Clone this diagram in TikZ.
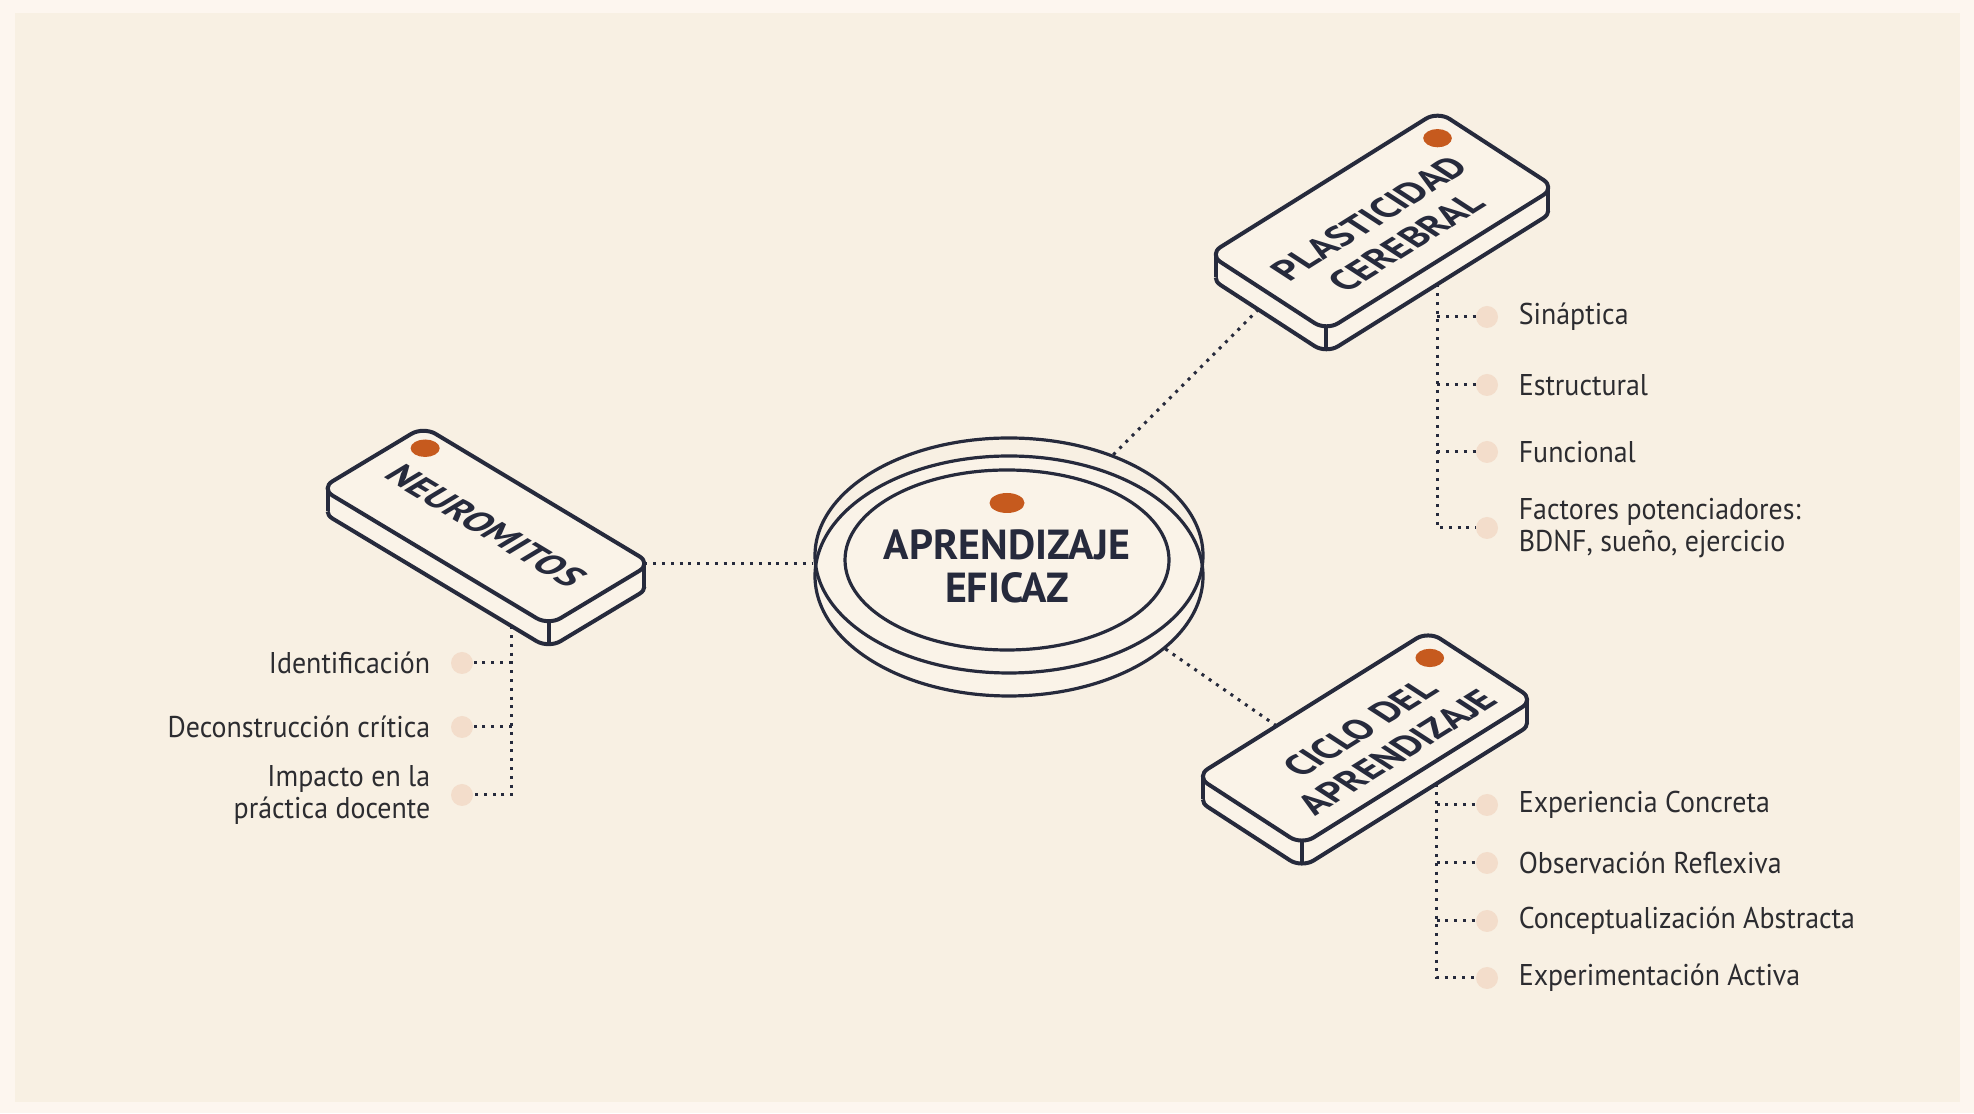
\documentclass[tikz,border=0pt]{standalone}
\usepackage{fontspec}
\setmainfont{PT Sans}[FakeStretch=0.93]
\newfontfamily\headfont{PT Sans}
\usetikzlibrary{positioning,shapes.geometric}

\definecolor{outerbg}{HTML}{FDF6EF}
\definecolor{innerbg}{HTML}{F8F0E3}
\definecolor{slabfill}{HTML}{FAF3E8}
\definecolor{ink}{HTML}{262A3C}
\definecolor{accent}{HTML}{C65A1E}
\definecolor{bulletc}{HTML}{F3DDCB}
\definecolor{textc}{HTML}{2C2C30}

\def\slabr{14}
\newcommand{\facepath}[2]{({-#1+\slabr},{-#2}) -- ({#1-\slabr},{-#2}) arc[start angle=-90,end angle=0,radius=\slabr]
  -- ({#1},{#2-\slabr}) arc[start angle=0,end angle=90,radius=\slabr]
  -- ({-#1+\slabr},{#2}) arc[start angle=90,end angle=180,radius=\slabr]
  -- ({-#1},{-#2+\slabr}) arc[start angle=180,end angle=270,radius=\slabr] -- cycle}

\tikzset{
  isoA/.style={cm={0.857,-0.515,0.857,0.515,(0,0)}},
  isoB/.style={cm={0.848,0.530,-0.839,0.545,(0,0)}},
  slabline/.style={draw=ink, line width=2pt, line join=round},
  disc/.style={ellipse, draw=ink, line width=1.6pt, inner sep=0pt},
  dotlink/.style={draw=ink, line width=1.5pt, dash pattern=on 1.5pt off 2.9pt},
  slabtext/.style={font=\headfont\bfseries\fontsize{18.5}{22}\selectfont, text=ink, align=center, inner sep=0pt},
  titletext/.style={slabtext, font=\headfont\bfseries\fontsize{21}{21.5}\selectfont},
  itemdot/.style={circle, fill=bulletc, minimum size=11pt, inner sep=0pt},
  itemtext/.style={font=\fontsize{15}{15.8}\selectfont, text=textc, align=left, inner sep=0pt}
}

\begin{document}
\begin{tikzpicture}[x=0.5pt,y=0.5pt]
\useasboundingbox (0,0) rectangle (1974,1113);
\fill[outerbg] (0,0) rectangle (1974,1113);
\fill[innerbg] (15,11) rectangle (1960,1100);

% centre
\node[disc, fill=slabfill, minimum width=194pt, minimum height=120pt] (coreb) at (1009,537) {};
\node[disc, minimum width=194pt, minimum height=117.5pt] (core) at (1009,557.5) {};
\node[disc, minimum width=162pt, minimum height=90pt] (corein) at (1007,553) {};
\fill[accent] (1007,610) ellipse[x radius=17.5, y radius=10];
\node[titletext] (coretext) at (1007,547) {APRENDIZAJE\\EFICAZ};

% NEUROMITOS
\foreach \s in {0,...,23}{
  \begin{scope}[shift={(486,587-\s)},isoA]
    \fill[slabfill] \facepath{133}{60};
  \end{scope}}
\begin{scope}[shift={(486,564)},isoA]
  \draw[slabline] ({-133+0.293*\slabr},{-60+0.293*\slabr}) arc[start angle=225,end angle=270,radius=\slabr]
    -- ({133-\slabr},-60) arc[start angle=270,end angle=360,radius=\slabr]
    -- (133,{60-\slabr}) arc[start angle=0,end angle=45,radius=\slabr];
  \coordinate (neu-out) at (90,-60);
\end{scope}
\begin{scope}[shift={(486,587)},isoA]
  \draw[slabline] \facepath{133}{60};
  \coordinate (neu-l) at ({-133+0.293*\slabr},{-60+0.293*\slabr});
  \coordinate (neu-f) at ({133-0.293*\slabr},{-60+0.293*\slabr});
  \coordinate (neu-r) at ({133-0.293*\slabr},{60-0.293*\slabr});
  \fill[accent] (-111,40) circle[radius=12];
  \node[slabtext, transform shape] (neuro) at (0,0) {NEUROMITOS};
\end{scope}
\draw[slabline] (neu-l) -- ++(0,-23) (neu-f) -- ++(0,-23) (neu-r) -- ++(0,-23);

% PLASTICIDAD CEREBRAL
\foreach \s in {0,...,23}{
  \begin{scope}[shift={(1382,892-\s)},isoB]
    \fill[slabfill] \facepath{135}{70};
  \end{scope}}
\begin{scope}[shift={(1382,869)},isoB]
  \draw[slabline] ({-135+0.293*\slabr},{70-0.293*\slabr}) arc[start angle=135,end angle=180,radius=\slabr]
    -- (-135,{-70+\slabr}) arc[start angle=180,end angle=270,radius=\slabr]
    -- ({135-\slabr},-70) arc[start angle=270,end angle=315,radius=\slabr];
  \coordinate (pla-in) at (-135,11);
  \coordinate (pla-out) at (-4,-70);
\end{scope}
\begin{scope}[shift={(1382,892)},isoB]
  \draw[slabline] \facepath{135}{70};
  \coordinate (pla-l) at ({-135+0.293*\slabr},{70-0.293*\slabr});
  \coordinate (pla-f) at ({-135+0.293*\slabr},{-70+0.293*\slabr});
  \coordinate (pla-r) at ({135-0.293*\slabr},{-70+0.293*\slabr});
  \fill[accent] (110,45) circle[radius=12];
  \node[slabtext, transform shape] (plast) at (-5,-12) {PLASTICIDAD\\CEREBRAL};
\end{scope}
\draw[slabline] (pla-l) -- ++(0,-23) (pla-f) -- ++(0,-23) (pla-r) -- ++(0,-23);

% CICLO DEL APRENDIZAJE
\foreach \s in {0,...,23}{
  \begin{scope}[shift={(1365,375-\s)},isoB]
    \fill[slabfill] \facepath{137}{63};
  \end{scope}}
\begin{scope}[shift={(1365,352)},isoB]
  \draw[slabline] ({-137+0.293*\slabr},{63-0.293*\slabr}) arc[start angle=135,end angle=180,radius=\slabr]
    -- (-137,{-63+\slabr}) arc[start angle=180,end angle=270,radius=\slabr]
    -- ({137-\slabr},-63) arc[start angle=270,end angle=315,radius=\slabr];
  \coordinate (cic-out) at (22,-63);
\end{scope}
\begin{scope}[shift={(1365,375)},isoB]
  \draw[slabline] \facepath{137}{63};
  \coordinate (cic-l) at ({-137+0.293*\slabr},{63-0.293*\slabr});
  \coordinate (cic-f) at ({-137+0.293*\slabr},{-63+0.293*\slabr});
  \coordinate (cic-r) at ({137-0.293*\slabr},{-63+0.293*\slabr});
  \coordinate (cic-in) at (-42,63);
  \fill[accent] (113,37) circle[radius=12];
  \node[slabtext, transform shape] (ciclo) at (6,-10) {CICLO DEL\\APRENDIZAJE};
\end{scope}
\draw[slabline] (cic-l) -- ++(0,-23) (cic-f) -- ++(0,-23) (cic-r) -- ++(0,-23);

% items
\node[itemdot] (pla1) at (1487,796) {};
\node[itemdot] (pla2) at (1487,728) {};
\node[itemdot] (pla3) at (1487,661) {};
\node[itemdot] (pla4) at (1487,585) {};
\node[itemtext, right=10pt of pla1] (pla1t) {Sináptica};
\node[itemtext, right=10pt of pla2] (pla2t) {Estructural};
\node[itemtext, right=10pt of pla3] (pla3t) {Funcional};
\node[itemtext, right=10pt of pla4] (pla4t) {Factores potenciadores:\\BDNF, sueño, ejercicio};

\node[itemdot] (cic1) at (1487,308) {};
\node[itemdot] (cic2) at (1487,250) {};
\node[itemdot] (cic3) at (1487,192) {};
\node[itemdot] (cic4) at (1487,135) {};
\node[itemtext, right=10pt of cic1] (cic1t) {Experiencia Concreta};
\node[itemtext, right=10pt of cic2] (cic2t) {Observación Reflexiva};
\node[itemtext, right=10pt of cic3] (cic3t) {Conceptualización Abstracta};
\node[itemtext, right=10pt of cic4] (cic4t) {Experimentación Activa};

\node[itemdot] (neu1) at (462,450) {};
\node[itemdot] (neu2) at (462,386) {};
\node[itemdot] (neu3) at (462,318) {};
\node[itemtext, align=right, left=10pt of neu1] (neu1t) {Identificación};
\node[itemtext, align=right, left=10pt of neu2] (neu2t) {Deconstrucción crítica};
\node[itemtext, align=right, left=10pt of neu3] (neu3t) {Impacto en la\\práctica docente};

% connectors
\draw[dotlink] (neu-r) -- (neu-r -| core.west);
\draw[dotlink] (core.44) -- (pla-in);
\draw[dotlink] (coreb.-25) -- (cic-in);
\draw[dotlink] (neu-out) |- (neu3);
\foreach \i in {1,2} \draw[dotlink] (neu-out |- neu\i) -- (neu\i);
\draw[dotlink] (pla-out) |- (pla4);
\foreach \i in {1,2,3} \draw[dotlink] (pla-out |- pla\i) -- (pla\i);
\draw[dotlink] (cic-out) |- (cic4);
\foreach \i in {1,2,3} \draw[dotlink] (cic-out |- cic\i) -- (cic\i);
\end{tikzpicture}
\end{document}
